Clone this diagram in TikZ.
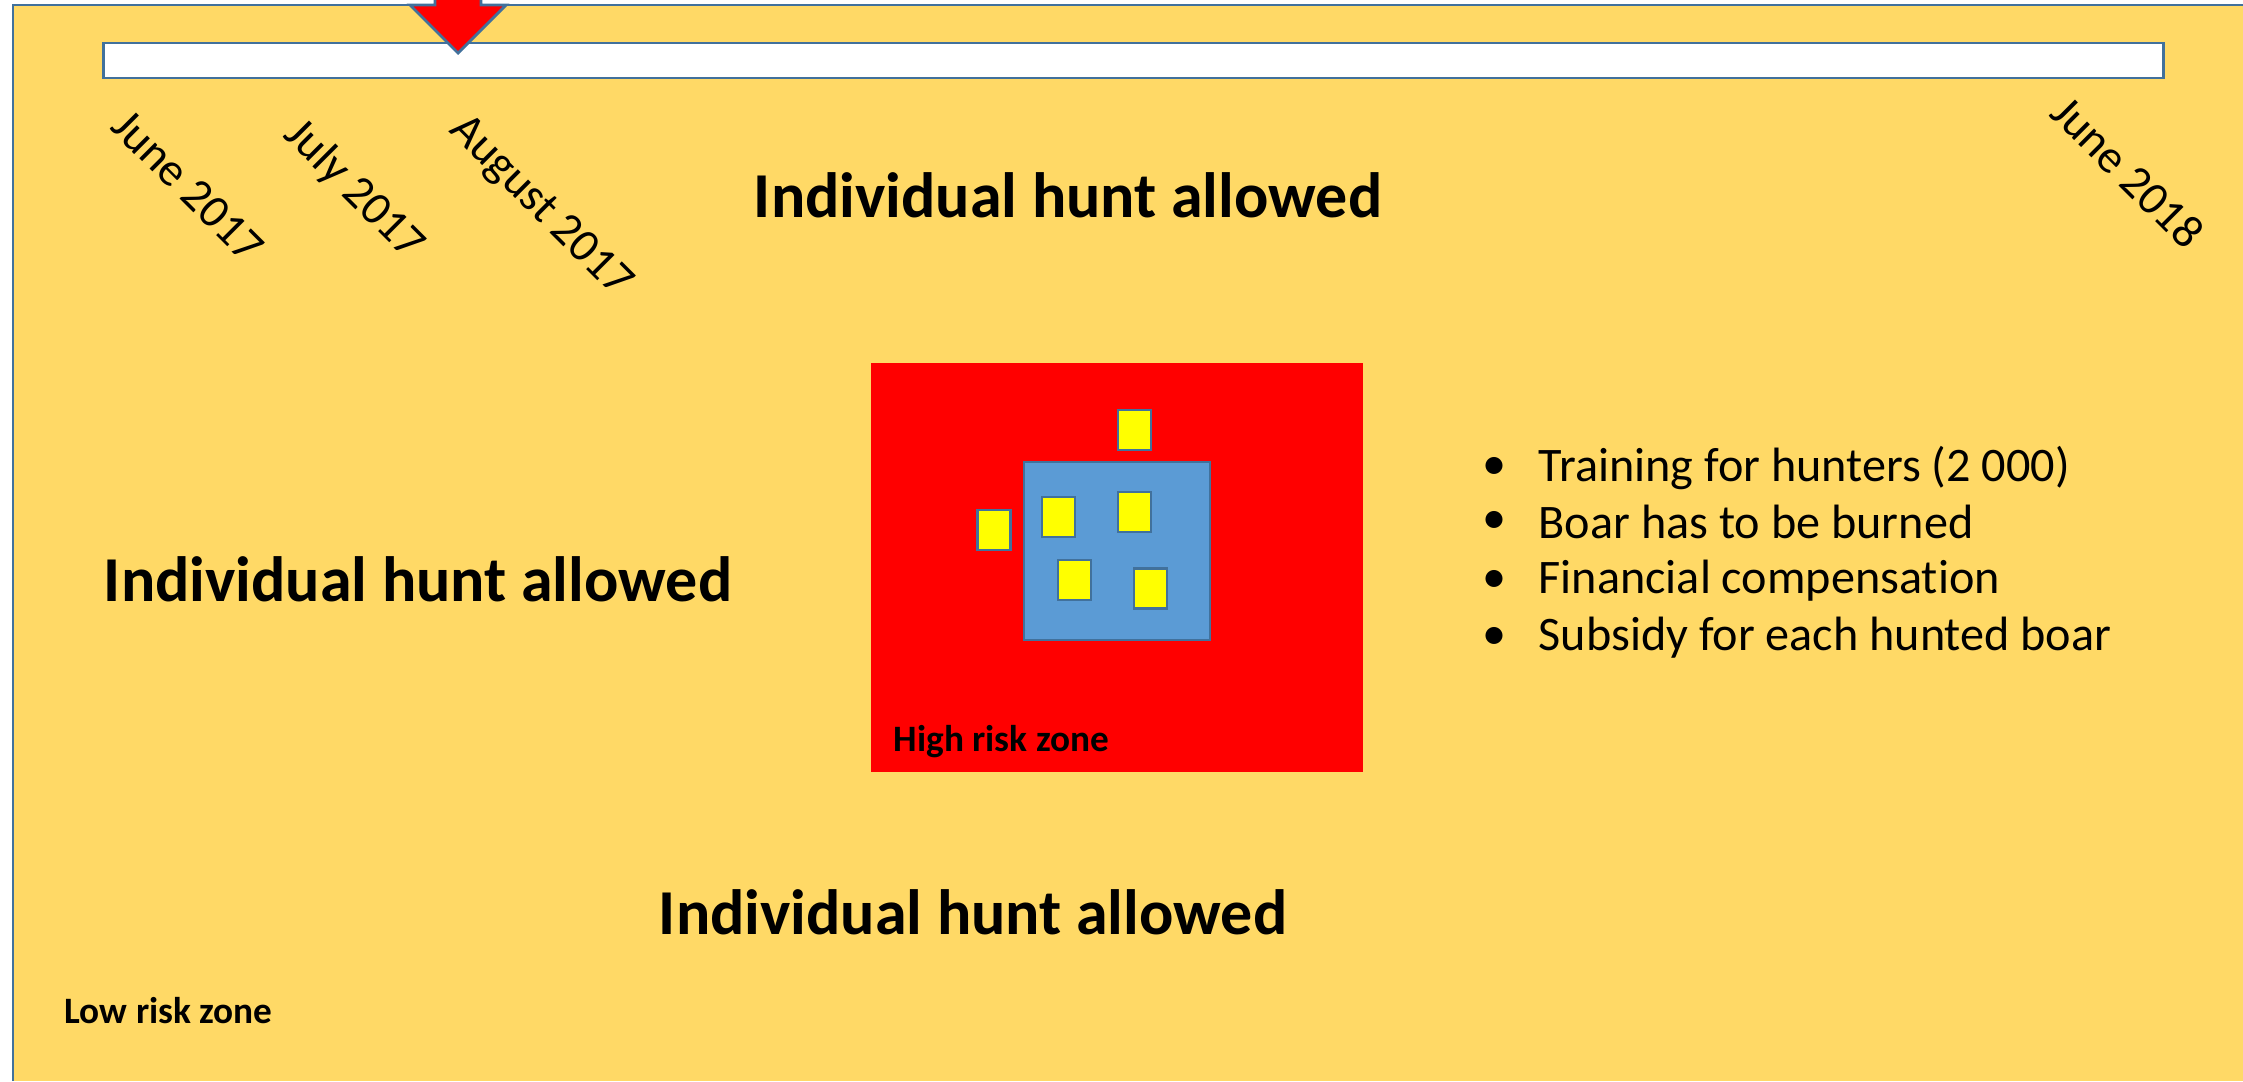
\documentclass[tikz,border=0pt]{standalone}
\usepackage{fontspec}
\setmainfont{Carlito}[Ligatures=NoCommon]
\usetikzlibrary{calc,positioning}
\definecolor{lowzone}{HTML}{FFD966}
\definecolor{edgeblue}{HTML}{41719C}
\definecolor{corezone}{HTML}{5B9BD5}
\definecolor{boarbox}{HTML}{FFFF00}

\begin{document}
\begin{tikzpicture}[x=0.01cm,y=-0.01cm,every node/.style={inner sep=0pt},
     title/.style={font=\fontsize{18.2}{21}\selectfont\bfseries},
     month/.style={font=\fontsize{13.3}{15}\selectfont,rotate=-45},
     zonelabel/.style={font=\fontsize{10.6}{12}\selectfont\bfseries,anchor=west},
     item/.style={font=\fontsize{13.7}{16}\selectfont,anchor=west},
     boar/.style={draw=edgeblue,line width=0.8pt,fill=boarbox,minimum width=0.33cm,minimum height=0.4cm}]
     \useasboundingbox (0,0) rectangle (2243,1081);
     % low risk zone
     \fill[lowzone] (13,5) rectangle (2243,1081);
     \draw[edgeblue,line width=0.8pt] (13,1081)--(13,5)--(2243,5);
     % timeline
     \node at (1133.5,60.5)[draw=edgeblue,line width=0.8pt,fill=white,minimum width=20.59cm,minimum height=0.35cm](bar){};
     \draw[edgeblue,line width=0.8pt,fill=red] (435,-10)--(435,5)--(410,5)--(458,53)--(506,5)--(481,5)--(481,-10)--cycle;
     \node at (188,186)[month](jun17){June 2017};
     \node at (354,190)[month](jul17){July 2017};
     \node at (540,207)[month](aug17){August 2017};
     \node at (2128,172)[month](jun18){June 2018};
     % titles
     \node at (1068,195)[title](hunttop){Individual hunt allowed};
     \node at (418,579)[title](huntleft){Individual hunt allowed};
     \node at (973,912)[title](huntbot){Individual hunt allowed};
     % high risk zone
     \node at (1117,567.5)[fill=red,minimum width=4.92cm,minimum height=4.09cm](hrz){};
     \node at (1117,551)[draw=edgeblue,line width=0.8pt,fill=corezone,minimum width=1.86cm,minimum height=1.78cm](core){};
     \node at ($(core)+(17.5,-121)$)[boar](boar1){};
     \node at ($(core)+(-123,-21)$)[boar](boar2){};
     \node at ($(core)+(-58.5,-34)$)[boar](boar3){};
     \node at ($(core)+(17.5,-39)$)[boar](boar4){};
     \node at ($(core)+(-42.5,29)$)[boar](boar5){};
     \node at ($(core)+(33.5,37.5)$)[boar](boar6){};
     \node at (893,742)[zonelabel](hrzlabel){High risk zone};
     \node at (64,1011)[zonelabel](lrzlabel){Low risk zone};
     % measures
     \node at (1482,468)[item](dot1){•};
     \node at (1538,468)[item](txt1){Training for hunters (2 000)};
     \node at (1482,522)[item](dot2){•};
     \node at (1538,522)[item](txt2){Boar has to be burned};
     \node at (1482,581)[item](dot3){•};
     \node at (1538,581)[item](txt3){Financial compensation};
     \node at (1482,638)[item](dot4){•};
     \node at (1538,638)[item](txt4){Subsidy for each hunted boar};
\end{tikzpicture}
\end{document}
